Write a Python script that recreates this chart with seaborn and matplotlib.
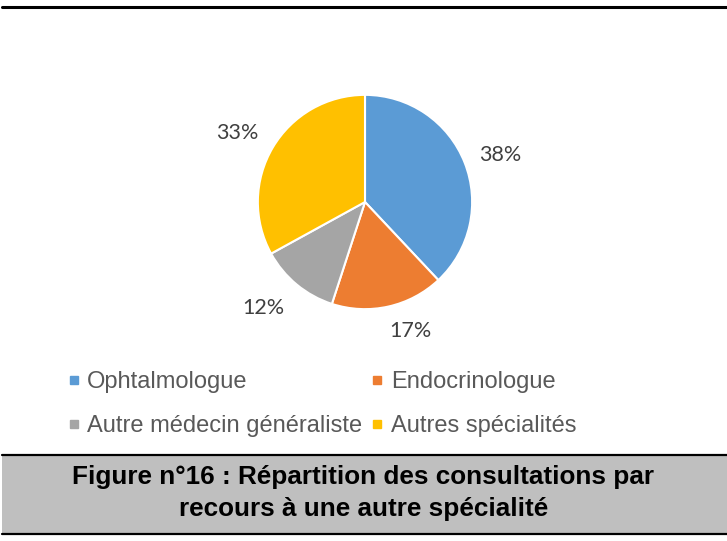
import matplotlib.pyplot as plt
import seaborn as sns
from matplotlib.lines import Line2D
from matplotlib.patches import Rectangle

# Données du graphique
categories = ['Ophtalmologue', 'Endocrinologue',
              'Autre médecin généraliste', 'Autres spécialités']
parts = [38, 17, 12, 33]
couleurs = ['#5B9BD5', '#ED7D31', '#A5A5A5', '#FFC000']
# ordre de la légende (rangée par rangée -> colonne par colonne pour matplotlib)
legende_ordre = [0, 2, 1, 3]

sns.set_theme(style='white')
plt.rcParams['font.family'] = ['Liberation Sans', 'DejaVu Sans']

fig = plt.figure(figsize=(7.27, 5.41), dpi=100)
W, H = 727, 541

# Camembert : centre (365, 202) px, rayon ~107 px
ax = fig.add_axes([(365 - 150) / W, (H - 202 - 150) / H, 300 / W, 300 / H])
wedges, _, pcts = ax.pie(parts, colors=couleurs, startangle=90, counterclock=False,
                         autopct='%1.0f%%', pctdistance=1.32,
                         wedgeprops=dict(edgecolor='white', linewidth=1.5),
                         textprops=dict(family='Lato', fontsize=15.5, color='#404040'))
# placement "au mieux" des étiquettes comme dans Excel
etiquettes_pos = [(1.26, 0.44), (0.42, -1.20), (-0.95, -0.99), (-1.19, 0.64)]
for t, p in zip(pcts, etiquettes_pos):
    t.set_position(p)
ax.set_xlim(-1.4, 1.4)
ax.set_ylim(-1.4, 1.4)
ax.set_aspect('equal')
ax.axis('off')

# Légende
handles = [Line2D([0], [0], marker='s', linestyle='', markersize=6,
                  markerfacecolor=couleurs[i], markeredgecolor=couleurs[i])
           for i in legende_ordre]
leg = fig.legend(handles, [categories[i] for i in legende_ordre], ncol=2,
                 loc='upper left', bbox_to_anchor=(59 / W, 1 - 362 / H),
                 frameon=False, fontsize=17, handlelength=0.45, handletextpad=0.35,
                 columnspacing=0.4, labelspacing=0.92, borderaxespad=0)
for t in leg.get_texts():
    t.set_color('#595959')

# Ligne du haut
fig.add_artist(Line2D([2 / W, 1], [1 - 7 / H, 1 - 7 / H], color='black', linewidth=2.2,
                      transform=fig.transFigure))

# Encadré de la légende de figure
fig.add_artist(Rectangle((2 / W, 1 - 534 / H), (W - 2) / W, 79 / H,
                         transform=fig.transFigure, facecolor='#BFBFBF', edgecolor='none'))
for yy in (455, 534):
    fig.add_artist(Line2D([2 / W, 1], [1 - yy / H, 1 - yy / H], color='black', linewidth=1.6,
                          transform=fig.transFigure))

fig.text(0.5, 1 - 493 / H,
         'Figure n°16 : Répartition des consultations par\nrecours à une autre spécialité',
         ha='center', va='center', fontsize=18.8, fontweight='bold', color='black',
         linespacing=1.42)

fig.savefig('out.png', dpi=100)
